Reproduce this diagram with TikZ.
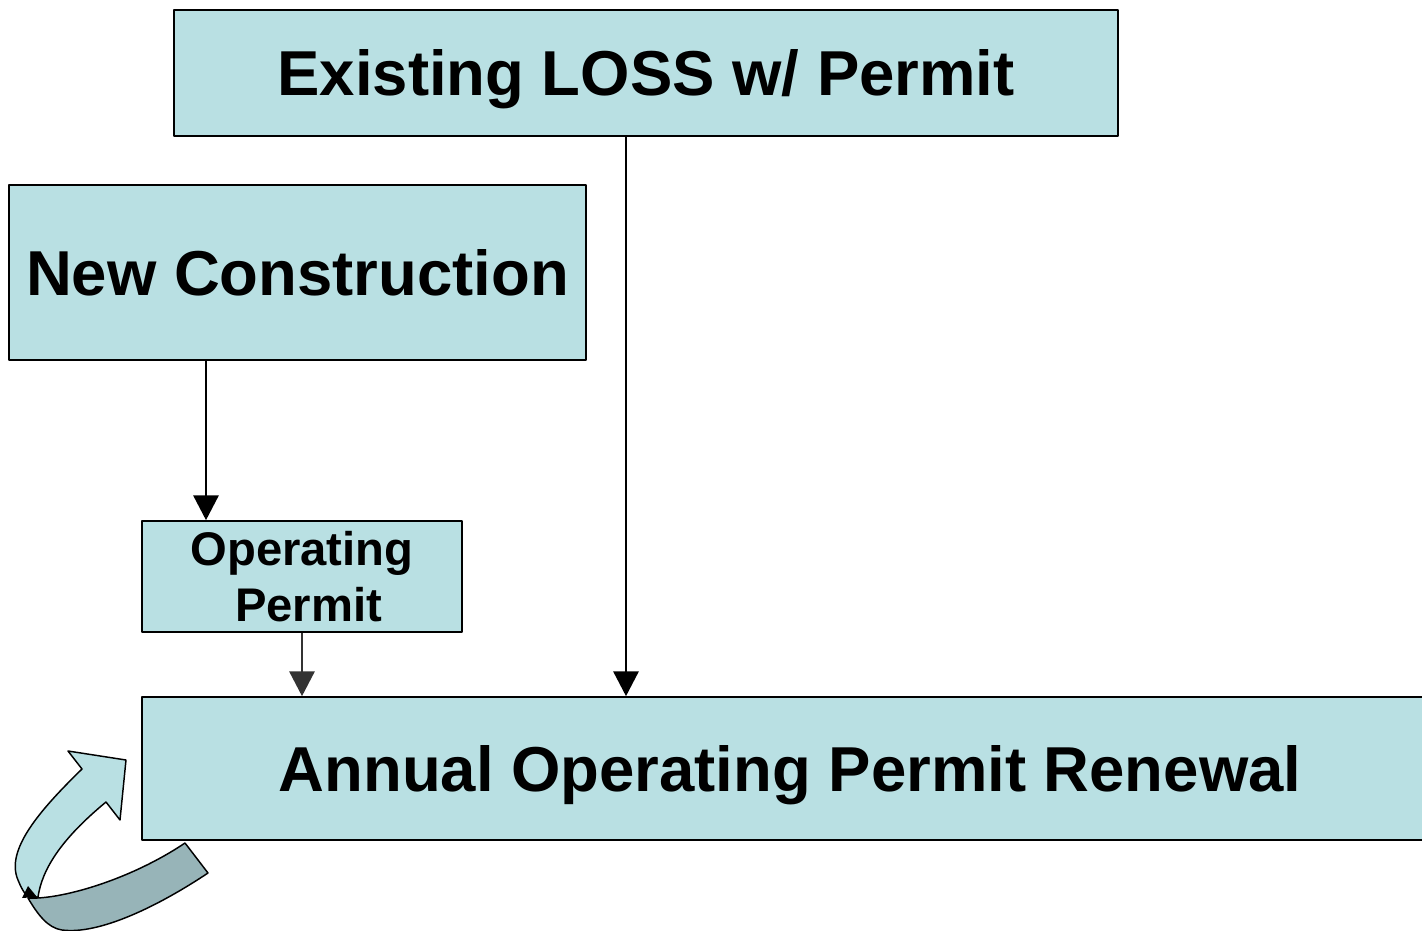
\documentclass[tikz,border=0pt]{standalone}
\usepackage{fontspec}
\setmainfont{Liberation Sans}
\usetikzlibrary{arrows.meta}
\definecolor{boxfill}{RGB}{185,224,227}
\definecolor{bandfill}{RGB}{151,180,184}
\definecolor{darkarrow}{RGB}{51,51,51}
\tikzset{
  stagebox/.style={draw=black,line width=1.3pt,fill=boxfill,inner sep=0pt,align=center,
    text height=34pt,text depth=0pt,font=\fontsize{47.6}{57}\selectfont\bfseries},
  smallbox/.style={draw=black,line width=1.3pt,fill=boxfill,inner sep=0pt,align=center,
    font=\fontsize{35.4}{42}\selectfont\bfseries},
  conn/.style={line width=1pt,-{Triangle[width=19pt,length=18.5pt]}}
}
\begin{document}
\begin{tikzpicture}[x=0.75pt,y=-0.75pt,line join=round]
   \useasboundingbox (0,0) rectangle (1422,931);
   \clip (0,0) rectangle (1422,931);
   % renewal loop arrow
   \filldraw[fill=bandfill,line width=1.1pt](28,898) .. controls (60,900) and (130,880) .. (185,843)--(208,873)
        .. controls (160,905) and (100,935) .. (62,930) .. controls (48,928) and (38,915) .. (28,898)--cycle;
   \filldraw[fill=boxfill,line width=1.1pt](106,802)--(120,820)--(126,760)--(68,751)--(82,769)
        .. controls (40,810) and (5,850) .. (18,880) .. controls (22,890) and (26,896) .. (30,898)--(38,897)
        .. controls (42,870) and (60,840) .. (106,802)--cycle;
   \fill[black](22,898)--(37,897)--(28,886)--cycle;
   % stages
   \node[stagebox,minimum width=708pt,minimum height=94.5pt] (ex) at (646,73) {Existing LOSS w/ Permit};
   \node[stagebox,minimum width=432.75pt,minimum height=131.25pt] (nc) at (297.5,272.5) {New Construction};
   \node[smallbox,minimum width=240pt,minimum height=83.25pt] (op) at (302,576.5) {Operating\\ \hspace*{9.8pt}Permit};
   \node[stagebox,minimum width=972pt,minimum height=107.25pt] (ap) at (790,768.5) {Annual Operating Permit Renewal};
   % connectors
   \draw[conn] (nc.south -| 206,0) -- (op.north -| 206,0);
   \draw[conn] (ex.south -| 626,0) -- (ap.north -| 626,0);
   \draw[conn,draw=darkarrow,fill=darkarrow] (op.south) -- (ap.north -| op.south);
\end{tikzpicture}
\end{document}
